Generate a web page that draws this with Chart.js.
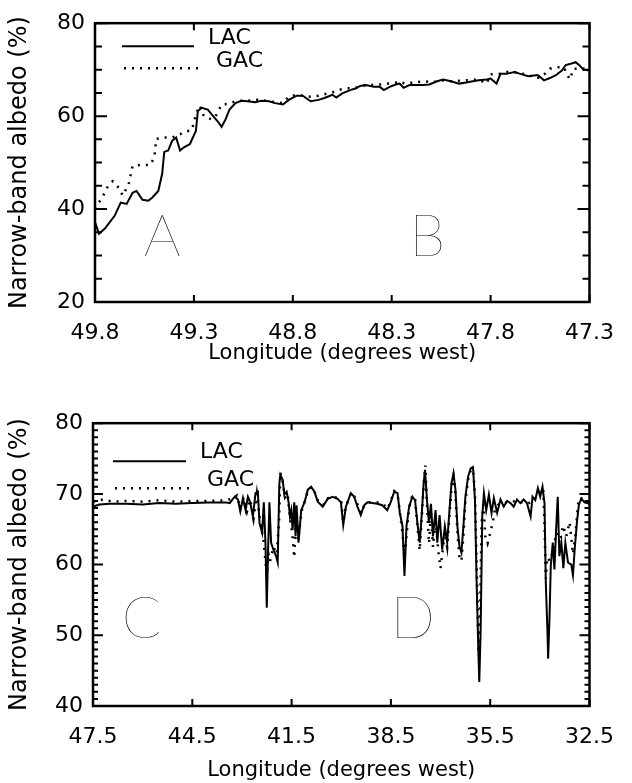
<!DOCTYPE html>
<html>
<head>
<meta charset="utf-8">
<script src="https://cdn.jsdelivr.net/npm/chart.js@4"></script>
<style>
  html, body { margin: 0; padding: 0; background: #fff; }
  canvas { position: absolute; left: 0; }
  #top { top: 0; }
  #bottom { top: 400px; }
</style>
</head>
<body>
<canvas id="top" width="632" height="380"></canvas>
<canvas id="bottom" width="632" height="383"></canvas>
<script>
// ---- upper panel (A/B) ----
const topTicks = [49.8, 49.3, 48.8, 48.3, 47.8, 47.3];
const topYTicks = [20, 40, 60, 80];

const topLacLon = [49.80,49.78,49.75,49.70,49.67,49.64,49.61,49.59,49.56,49.53,49.51,49.48,49.46,49.45,49.43,49.41,49.39,49.37,49.35,49.32,49.29,49.28,49.26,49.23,49.21,49.18,49.16,49.14,49.12,49.09,49.06,49.03,48.99,48.96,48.92,48.89,48.85,48.82,48.78,48.75,48.71,48.67,48.64,48.60,48.58,48.55,48.51,48.48,48.46,48.43,48.39,48.36,48.34,48.31,48.28,48.26,48.24,48.21,48.18,48.14,48.11,48.07,48.04,48.00,47.96,47.93,47.89,47.86,47.82,47.80,47.77,47.75,47.72,47.68,47.65,47.61,47.57,47.56,47.53,47.50,47.47,47.44,47.42,47.40,47.37,47.35,47.33,47.30];
const topLac = [37.2,34.7,35.8,38.6,41.4,41.1,43.5,43.9,42.0,41.8,42.5,43.9,47.7,52.3,52.6,54.7,55.4,52.6,53.3,54.0,56.8,61.1,61.8,61.4,60.4,58.9,57.7,59.3,61.4,62.8,63.3,63.2,63.0,63.3,63.2,62.8,62.5,63.5,64.4,64.4,63.2,63.5,63.9,64.6,64.0,64.9,65.6,66.0,66.5,66.7,66.3,66.3,65.6,66.3,66.8,67.0,66.1,66.7,66.7,66.7,66.8,67.5,67.9,67.5,67.0,67.2,67.5,67.7,67.9,68.1,67.0,69.1,69.1,69.5,69.1,68.6,68.8,68.8,67.7,68.2,68.8,69.8,71.0,71.2,71.6,70.9,70.0,69.8];

const topGacLon = [49.80,49.77,49.76,49.73,49.71,49.68,49.66,49.63,49.61,49.57,49.52,49.50,49.49,49.45,49.41,49.37,49.35,49.31,49.29,49.27,49.25,49.21,49.19,49.16,49.13,49.09,49.06,49.03,48.99,48.96,48.92,48.89,48.85,48.82,48.78,48.75,48.71,48.67,48.64,48.60,48.57,48.53,48.50,48.46,48.43,48.39,48.36,48.32,48.28,48.27,48.23,48.20,48.14,48.11,48.07,48.04,48.00,47.96,47.93,47.89,47.86,47.82,47.80,47.75,47.72,47.68,47.65,47.61,47.57,47.54,47.50,47.47,47.43,47.40,47.38,47.34,47.30];
const topGac = [40.0,42.1,42.8,45.3,46.0,44.6,42.9,45.3,49.3,49.5,49.5,51.2,55.1,55.4,55.4,56.1,56.6,57.0,60.4,62.3,60.0,59.3,60.0,62.5,62.6,63.2,63.3,63.3,63.5,63.5,63.2,63.0,62.8,64.2,64.6,64.4,64.2,64.4,64.7,65.1,65.6,66.0,66.0,66.3,66.7,66.7,66.8,67.0,67.2,67.5,67.0,67.2,67.5,67.4,67.4,67.7,67.5,67.6,67.7,67.8,67.9,67.0,69.0,69.1,69.5,69.5,69.2,68.9,68.1,68.5,70.2,70.5,70.5,67.9,70.2,70.2,70.3];

// ---- lower panel (C/D) ----
const botTicks = [47.5, 44.5, 41.5, 38.5, 35.5, 32.5];
const botYTicks = [40, 50, 60, 70, 80];

const botLacLon = [47.50,47.30,47.00,46.50,46.00,45.50,45.00,44.50,44.00,43.50,43.37,43.22,43.12,43.05,42.97,42.89,42.82,42.75,42.67,42.59,42.52,42.47,42.39,42.34,42.29,42.25,42.21,42.17,42.12,42.05,41.97,41.92,41.87,41.84,41.77,41.72,41.65,41.59,41.55,41.51,41.47,41.42,41.38,41.35,41.29,41.21,41.11,41.01,40.91,40.81,40.71,40.56,40.41,40.26,40.11,40.01,39.94,39.86,39.71,39.61,39.51,39.41,39.31,39.21,39.06,38.91,38.76,38.61,38.50,38.40,38.30,38.23,38.15,38.09,38.03,37.95,37.85,37.77,37.70,37.63,37.57,37.51,37.47,37.41,37.35,37.29,37.23,37.15,37.10,37.03,36.95,36.87,36.80,36.73,36.67,36.61,36.55,36.49,36.43,36.37,36.31,36.25,36.17,36.09,36.02,35.96,35.91,35.86,35.83,35.79,35.74,35.69,35.62,35.54,35.46,35.39,35.29,35.19,35.09,34.99,34.89,34.79,34.69,34.59,34.49,34.39,34.28,34.22,34.14,34.06,33.99,33.92,33.86,33.82,33.77,33.75,33.71,33.67,33.61,33.56,33.51,33.46,33.41,33.35,33.29,33.23,33.15,33.05,33.00,32.95,32.88,32.82,32.75,32.65,32.50];
const botLac = [68.2,68.5,68.6,68.6,68.5,68.7,68.6,68.7,68.8,68.8,68.7,69.6,69.2,67.5,69.4,67.7,69.6,68.8,66.8,70.1,70.3,65.9,64.5,68.8,63.1,53.9,62.1,68.8,63.1,62.1,61.2,60.3,71.5,72.7,72.0,69.9,70.3,68.8,66.8,67.7,64.9,68.8,64.0,68.4,63.1,67.7,68.8,70.6,71.0,70.3,68.9,68.2,69.3,69.6,69.3,68.8,65.6,68.2,70.1,69.6,68.2,67.0,68.4,68.8,68.7,68.6,68.4,67.7,68.9,70.3,70.1,67.3,65.4,58.4,65.4,68.2,69.6,69.1,65.9,63.1,67.0,71.5,73.4,69.1,65.9,68.6,64.0,67.7,63.1,67.0,62.1,65.4,63.1,67.7,71.5,72.9,70.6,65.4,62.6,61.7,65.4,69.6,72.4,73.6,73.8,69.1,57.4,48.1,43.4,50.4,66.8,70.1,67.7,69.9,67.3,69.4,67.3,69.2,68.2,69.0,68.7,68.2,69.2,68.7,69.2,68.7,66.8,69.6,69.1,70.8,69.6,71.0,68.7,57.4,50.4,46.7,52.3,59.8,63.1,59.3,64.9,69.6,61.2,63.1,59.5,63.1,60.3,60.0,58.5,62.0,66.0,68.5,69.3,68.8,68.6];

const botGacLon = [47.50,47.20,46.90,46.50,46.00,45.50,45.00,44.50,44.00,43.50,43.30,43.15,43.05,42.95,42.85,42.75,42.65,42.55,42.45,42.35,42.30,42.25,42.20,42.15,42.05,41.95,41.88,41.84,41.78,41.70,41.62,41.55,41.48,41.42,41.37,41.30,41.20,41.10,41.00,40.90,40.80,40.70,40.55,40.40,40.25,40.10,40.00,39.94,39.86,39.70,39.60,39.50,39.40,39.30,39.10,38.90,38.75,38.60,38.50,38.40,38.30,38.22,38.15,38.09,38.03,37.95,37.85,37.77,37.70,37.63,37.57,37.50,37.46,37.41,37.35,37.29,37.23,37.15,37.07,37.00,36.95,36.87,36.80,36.73,36.67,36.61,36.55,36.49,36.43,36.37,36.31,36.25,36.17,36.09,36.02,35.96,35.92,35.88,35.85,35.80,35.76,35.70,35.65,35.58,35.50,35.42,35.35,35.25,35.00,34.70,34.40,34.20,34.00,33.90,33.86,33.82,33.78,33.70,33.60,33.50,33.40,33.30,33.20,33.10,33.00,32.92,32.85,32.78,32.65,32.50];
const botGac = [68.9,69.2,68.9,69.0,68.9,69.1,68.9,69.0,69.0,69.1,69.3,69.8,68.0,69.5,67.5,69.2,66.5,70.0,66.0,63.5,61.0,58.5,61.5,60.5,62.5,61.5,66.0,73.0,72.0,69.5,70.0,66.5,64.5,61.0,66.0,63.5,67.5,69.0,70.5,71.0,70.2,69.0,68.4,69.4,69.6,69.4,68.9,66.0,68.2,70.2,69.6,68.4,67.3,68.4,68.9,68.8,68.6,67.9,69.1,70.4,70.0,67.0,64.5,61.0,64.0,68.0,69.8,69.3,65.5,62.0,66.5,72.0,74.0,68.5,63.0,67.5,62.5,66.5,62.0,59.5,61.5,64.5,62.5,67.0,71.0,72.5,70.0,64.5,61.0,60.5,64.0,69.0,72.0,73.3,73.5,70.0,62.0,54.0,47.5,55.0,66.0,68.5,64.0,63.0,64.5,66.0,68.0,68.5,68.8,69.0,68.6,68.9,70.5,70.8,66.0,58.0,61.0,60.5,62.0,64.5,63.0,65.5,64.0,66.0,61.5,64.5,68.5,69.5,69.0,68.8];

Chart.defaults.font.family = "'DejaVu Sans', sans-serif";
Chart.defaults.color = '#000';

const pts = (xs, ys) => xs.map((x, i) => ({ x: x, y: ys[i] }));

// inward ticks on all four sides, box, in-plot legend and panel letters
const frame = {
    id: 'frame',
    afterDatasetsDraw(chart, args, opts) {
        const { ctx, chartArea: a, scales: { x, y } } = chart;
        ctx.save();
        ctx.strokeStyle = '#000';
        ctx.fillStyle = '#000';
        ctx.lineWidth = 2;
        ctx.beginPath();
        for (let v = y.min; v <= y.max + 1e-6; v += opts.yMinor) {
            const py = y.getPixelForValue(v);
            const major = Math.abs(v / opts.yMajor - Math.round(v / opts.yMajor)) < 1e-6;
            const len = major ? opts.majorLen : opts.minorLen;
            ctx.moveTo(a.left, py); ctx.lineTo(a.left + len, py);
            ctx.moveTo(a.right, py); ctx.lineTo(a.right - len, py);
        }
        x.ticks.forEach(t => {
            const px = x.getPixelForValue(t.value);
            ctx.moveTo(px, a.bottom); ctx.lineTo(px, a.bottom - opts.xLen);
            ctx.moveTo(px, a.top); ctx.lineTo(px, a.top + opts.xLen);
        });
        ctx.stroke();
        ctx.lineWidth = 2.5;
        ctx.strokeRect(a.left, a.top, a.width, a.height);

        // legend
        ctx.font = "22px 'DejaVu Sans'";
        ctx.textBaseline = 'middle';
        ctx.textAlign = 'left';
        chart.data.datasets.forEach((ds, i) => {
            const L = opts.legend[i];
            ctx.setLineDash(ds.borderDash || []);
            ctx.lineWidth = ds.borderWidth;
            ctx.beginPath();
            ctx.moveTo(a.left + L.x0, a.top + L.y);
            ctx.lineTo(a.left + L.x1, a.top + L.y);
            ctx.stroke();
            ctx.setLineDash([]);
            ctx.fillText(ds.label, a.left + L.tx, a.top + L.ty);
        });

        // big panel letters
        ctx.font = "200 58px Lato, Roboto, 'DejaVu Sans'";
        ctx.textAlign = 'center';
        ctx.textBaseline = 'alphabetic';
        opts.marks.forEach(m => {
            ctx.fillText(m.t, x.getPixelForValue(m.x), y.getPixelForValue(m.y));
        });
        ctx.restore();
    }
};

function makePanel(id, cfg) {
    return new Chart(id, {
        type: 'line',
        data: {
            datasets: [
                {
                    label: 'LAC',
                    data: pts(cfg.lacLon, cfg.lac),
                    borderColor: '#000',
                    borderWidth: 2,
                    pointRadius: 0,
                    tension: 0,
                    fill: false,
                },
                {
                    label: 'GAC',
                    data: pts(cfg.gacLon, cfg.gac),
                    borderColor: '#000',
                    borderWidth: 2.5,
                    borderDash: [2, 6],
                    pointRadius: 0,
                    tension: 0,
                    fill: false,
                },
            ],
        },
        options: {
            responsive: false,
            animation: false,
            layout: { padding: cfg.padding },
            plugins: {
                legend: { display: false },
                tooltip: { enabled: false },
                frame: cfg.frame,
            },
            scales: {
                x: {
                    type: 'linear',
                    reverse: true,
                    min: cfg.xTicks[cfg.xTicks.length - 1],
                    max: cfg.xTicks[0],
                    afterBuildTicks: s => { s.ticks = cfg.xTicks.map(v => ({ value: v })); },
                    afterFit: s => { s.height = cfg.xHeight; },
                    grid: { display: false, drawTicks: false },
                    border: { display: false },
                    ticks: {
                        autoSkip: false,
                        maxRotation: 0,
                        padding: 18,
                        font: { size: 22 },
                        callback: v => Number(v).toFixed(1),
                    },
                    title: {
                        display: true,
                        text: 'Longitude (degrees west)',
                        font: { size: 21 },
                        padding: { top: 0, bottom: cfg.titlePad },
                    },
                },
                y: {
                    min: cfg.yTicks[0],
                    max: cfg.yTicks[cfg.yTicks.length - 1],
                    afterBuildTicks: s => { s.ticks = cfg.yTicks.map(v => ({ value: v })); },
                    afterFit: s => { s.width = cfg.yWidth; },
                    grid: { display: false, drawTicks: false },
                    border: { display: false },
                    ticks: { padding: 10, font: { size: 22 } },
                    title: {
                        display: true,
                        text: 'Narrow-band albedo (%)',
                        font: { size: 24 },
                        padding: { top: 5, bottom: 0 },
                    },
                },
            },
        },
        plugins: [frame],
    });
}

makePanel('top', {
    lacLon: topLacLon, lac: topLac, gacLon: topGacLon, gac: topGac,
    xTicks: topTicks, yTicks: topYTicks,
    padding: { top: 14, right: 40, left: 0, bottom: 0 },
    xHeight: 78, yWidth: 95, titlePad: 14,
    frame: {
        yMinor: 5, yMajor: 20, majorLen: 12, minorLen: 7, xLen: 7,
        legend: [
            { x0: 27, x1: 99, y: 23, tx: 113, ty: 15 },
            { x0: 29, x1: 105, y: 45, tx: 121, ty: 38 },
        ],
        marks: [{ t: 'A', x: 49.46, y: 29.8 }, { t: 'B', x: 48.12, y: 29.8 }],
    },
});

makePanel('bottom', {
    lacLon: botLacLon, lac: botLac, gacLon: botGacLon, gac: botGac,
    xTicks: botTicks, yTicks: botYTicks,
    padding: { top: 21, right: 41, left: 0, bottom: 0 },
    xHeight: 77, yWidth: 93, titlePad: 0,
    frame: {
        yMinor: 1, yMajor: 10, majorLen: 10, minorLen: 5, xLen: 7,
        legend: [
            { x0: 20, x1: 93, y: 38, tx: 107, ty: 29 },
            { x0: 22, x1: 96, y: 65, tx: 114, ty: 57 },
        ],
        marks: [{ t: 'C', x: 46.03, y: 49.6 }, { t: 'D', x: 37.84, y: 49.6 }],
    },
});
</script>
</body>
</html>
